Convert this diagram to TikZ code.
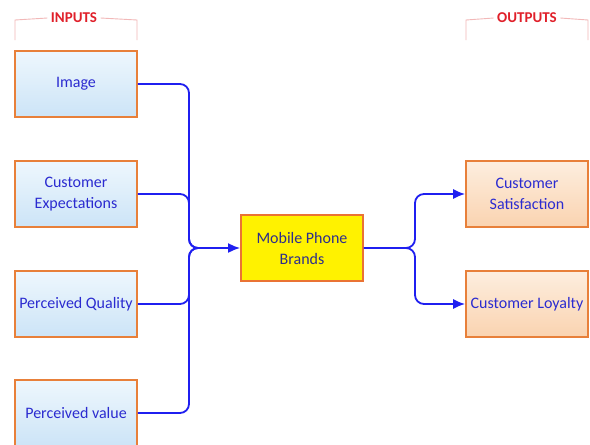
\documentclass[tikz,border=0pt]{standalone}
\usepackage{fontspec}
\setmainfont{Carlito}
\usetikzlibrary{arrows.meta}
\definecolor{boxedge}{HTML}{E8803A}
\definecolor{inA}{HTML}{EEF7FD}
\definecolor{inB}{HTML}{CCE4F7}
\definecolor{outA}{HTML}{FDEEDF}
\definecolor{outB}{HTML}{FAD3B0}
\definecolor{flow}{HTML}{1F1FF0}
\definecolor{intext}{HTML}{2B2BD0}
\definecolor{hubtext}{HTML}{2E2E8C}
\definecolor{headred}{HTML}{E0202A}
\definecolor{bracket}{HTML}{F2B8B8}
\tikzset{
  inbox/.style={draw=boxedge, line width=1.6pt, top color=inA, bottom color=inB,
    minimum width=122pt, minimum height=66pt, align=center, text=intext,
    font=\fontsize{16}{21}\selectfont, inner sep=0pt},
  outbox/.style={inbox, top color=outA, bottom color=outB},
  hubbox/.style={draw=boxedge!90!red, line width=1.8pt, fill=yellow,
    minimum width=122pt, minimum height=66pt, align=center, text=hubtext,
    font=\fontsize{16}{21}\selectfont, inner sep=0pt},
  link/.style={draw=flow, line width=1.8pt, rounded corners=9pt},
  tip/.style={-{Latex[length=12pt,width=10pt]}},
  head/.style={text=headred, font=\fontsize{15}{18}\selectfont\bfseries},
  brk/.style={draw=bracket, line width=0.9pt}
}
\begin{document}
\begin{tikzpicture}[x=1pt,y=-1pt]
\useasboundingbox (0,0) rectangle (590,445);
\fill[white] (0,0) rectangle (590,445);

% column headings with their brackets
\node[head] (inhead) at (74,18) {INPUTS};
\node[head] (outhead) at (527,18) {OUTPUTS};
\draw[brk] (15,40) -- (15,20) -- (inhead.west);
\draw[brk] (inhead.east) -- (137,20) -- (137,40);
\draw[brk] (466,40) -- (466,20) -- (outhead.west);
\draw[brk] (outhead.east) -- (588,20) -- (588,40);

% input boxes
\node[inbox] (img) at (76,84) {Image};
\node[inbox] (exp) at (76,194) {Customer\\Expectations};
\node[inbox] (qual) at (76,304) {Perceived Quality};
\node[inbox] (val) at (76,413) {Perceived value};

% central box
\node[hubbox] (hub) at (302,248) {Mobile Phone\\Brands};

% output boxes
\node[outbox] (sat) at (527,194) {Customer\\Satisfaction};
\node[outbox] (loy) at (527,304) {Customer Loyalty};

% inputs feed the central box through a shared bus
\coordinate (bus) at (189,248);
\draw[link,tip] (img.east) -- (img.east -| bus) -- (bus) -- (hub.west);
\draw[link] (exp.east) -- (exp.east -| bus) -- (bus) -- ([xshift=15pt]bus);
\draw[link] (qual.east) -- (qual.east -| bus) -- (bus) -- ([xshift=15pt]bus);
\draw[link] (val.east) -- (val.east -| bus) -- (bus) -- ([xshift=15pt]bus);

% central box splits to the outputs
\coordinate (split) at (415,248);
\draw[link,tip] (hub.east) -- (split) -- (split |- sat.west) -- (sat.west);
\draw[link,tip] (hub.east) -- (split) -- (split |- loy.west) -- (loy.west);
\end{tikzpicture}
\end{document}
